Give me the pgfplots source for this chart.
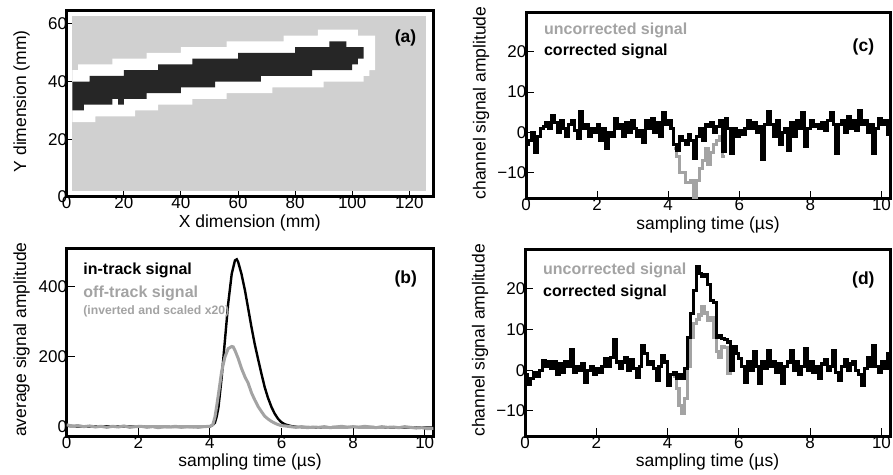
\documentclass[border=0pt]{standalone}
\usepackage{fontspec}
\setmainfont{Liberation Sans}
\usepackage{pgfplots}
\pgfplotsset{compat=1.18}

\definecolor{trgray}{RGB}{163,163,163}
\definecolor{mapgray}{RGB}{208,208,208}
\definecolor{trackblk}{RGB}{38,38,38}

\tikzset{
  legtext/.style={anchor=west, font=\bfseries\fontsize{16}{18}\selectfont},
  plabel/.style={font=\bfseries\fontsize{17.5}{20}\selectfont},
}
\pgfplotsset{
  panel/.style={
    scale only axis, anchor=south west,
    axis line style={line width=3pt},
    tick align=inside, tick pos=left,
    major tick length=8pt,
    tick style={line width=1pt, black},
    tick label style={font=\fontsize{17}{19}\selectfont},
    xticklabel style={yshift=3.5pt},
    yticklabel style={xshift=3.8pt},
    label style={font=\fontsize{17.5}{20}\selectfont},
  },
  timex/.style={
    xmin=0, xmax=10.24,
    xtick={0,2,4,6,8,10}, xticklabels={0,2,4,6,8,10},
    xlabel={sampling time (µs)},
  },
}

\begin{document}
\begin{tikzpicture}
\useasboundingbox (0,0) rectangle (893pt,474pt);

% (a) pad map
\begin{axis}[panel, at={(66.7pt,277pt)}, width=366.3pt, height=186pt,
  xmin=0, xmax=128.3, ymin=0, ymax=64.5,
  xtick={0,20,...,120}, xticklabels={0,20,40,60,80,100,120},
  ytick={0,20,40,60}, yticklabels={0,20,40,60},
  xlabel={X dimension (mm)}, ylabel={Y dimension (mm)},
  xlabel style={at={(axis description cs:0.5,-0.14)}, anchor=center},
  ylabel style={at={(axis description cs:-0.1228,0.515)}, anchor=center},
]
\addplot[fill=mapgray, draw=none] coordinates {
  (2,2) (126,2) (126,62.7) (2,62.7)} -- cycle;
\addplot[fill=white, draw=none] coordinates {
  (2,26) (2,44) (4,44) (4,46) (16,46) (16,48) (28,48) (28,50) (40,50) (40,52)
  (56,52) (56,54) (76,54) (76,56) (88,56) (88,58) (102,58) (102,56) (108,56)
  (108,44) (106,44) (106,42) (104,42) (104,40) (90,40) (90,38) (72,38) (72,36)
  (56,36) (56,34) (44,34) (44,32) (32,32) (32,30) (24,30) (24,28) (10,28) (10,26)} -- cycle;
\addplot[fill=trackblk, draw=none] coordinates {
  (2,30) (2,40) (8,40) (8,42) (20,42) (20,44) (32,44) (32,46) (44,46) (44,48)
  (60,48) (60,50) (80,50) (80,52) (92,52) (92,54) (98,54) (98,52) (104,52)
  (104,48) (102,48) (102,46) (100,46) (100,44) (86,44) (86,42) (68,42) (68,40)
  (52,40) (52,38) (40,38) (40,36) (28,36) (28,34) (20,34) (20,32) (18,32)
  (18,34) (16,34) (16,32) (6,32) (6,30)} -- cycle;
\node[plabel] at (rel axis cs:0.925,0.853) {(a)};
\end{axis}

% (c) channel far from track
\begin{axis}[panel, timex, at={(526pt,275pt)}, width=364pt, height=186.3pt,
  ymin=-16.5, ymax=29.7,
  ytick={-10,0,10,20}, yticklabels={−10,0,10,20},
  ylabel={channel signal amplitude},
  xlabel style={at={(axis description cs:0.5,-0.14)}, anchor=center},
  ylabel style={at={(axis description cs:-0.1236,0.515)}, anchor=center},
]
\addplot[const plot, trgray, line width=3.1pt] coordinates {
  (4.16,-4) (4.24,-6) (4.32,-10) (4.40,-10) (4.48,-12.5) (4.56,-12.5)
  (4.64,-12) (4.72,-16) (4.80,-12) (4.88,-9) (4.96,-7) (5.04,-4) (5.12,-8)
  (5.20,-5) (5.28,-3) (5.36,-2) (5.44,-1) (5.52,-6) (5.60,-6)};
\addplot[const plot, black, line width=3.1pt] coordinates {
  (0.00,-3) (0.08,-2) (0.16,0) (0.24,-5) (0.32,-1) (0.40,1) (0.48,1.5) (0.56,2.5)
  (0.64,1) (0.72,4.3) (0.80,2.5) (0.88,0) (0.96,3) (1.04,1) (1.12,-1) (1.20,2)
  (1.28,3) (1.36,0.5) (1.44,-1.5) (1.52,5.2) (1.60,1) (1.68,2) (1.76,-1) (1.84,1)
  (1.92,0) (2.00,2) (2.08,-2) (2.16,1) (2.24,-4) (2.32,0) (2.40,-1) (2.48,3.5)
  (2.56,1) (2.64,2) (2.72,-1) (2.80,2.5) (2.88,0) (2.96,3) (3.04,1) (3.12,-1)
  (3.20,0.5) (3.28,-2.6) (3.36,3) (3.44,1) (3.52,3.5) (3.60,0) (3.68,2.5) (3.76,-1)
  (3.84,5) (3.92,2) (4.00,3) (4.08,1) (4.16,-3) (4.24,-4.5) (4.32,-1) (4.40,-2)
  (4.48,-3) (4.56,-0.5) (4.64,-2) (4.72,-6.5) (4.80,-1) (4.88,1) (4.96,-2) (5.04,2)
  (5.12,1.5) (5.20,2.5) (5.28,0) (5.36,1.5) (5.44,3) (5.52,-4.8) (5.60,3.5) (5.68,1)
  (5.76,-5.2) (5.84,1) (5.92,-1) (6.00,0.5) (6.08,-0.5) (6.16,1) (6.24,3) (6.32,1)
  (6.40,2.5) (6.48,0) (6.56,1.5) (6.64,-6.8) (6.72,2) (6.80,5.1) (6.88,2) (6.96,-1)
  (7.04,3) (7.12,-3) (7.20,0) (7.28,1) (7.36,-4.4) (7.44,2.5) (7.52,-1) (7.60,3)
  (7.68,1) (7.76,5) (7.84,-3.5) (7.92,1) (8.00,3) (8.08,1.5) (8.16,2) (8.24,1)
  (8.32,2.5) (8.40,0.5) (8.48,3) (8.56,5) (8.64,2) (8.72,-5.2) (8.80,2) (8.88,3)
  (8.96,0) (9.04,4) (9.12,1) (9.20,3) (9.28,0.5) (9.36,5.5) (9.44,2) (9.52,3)
  (9.60,0) (9.68,2) (9.76,-5.2) (9.84,1) (9.92,3.5) (10.00,2) (10.08,3) (10.16,-0.6)
  (10.24,-0.6)};
\node[legtext, text=trgray] at (rel axis cs:0.04,0.903) {uncorrected signal};
\node[legtext] at (rel axis cs:0.04,0.79) {corrected signal};
\node[plabel] at (rel axis cs:0.927,0.815) {(c)};
\end{axis}

% (b) average signals
\begin{axis}[panel, timex, at={(66.7pt,37.7pt)}, width=366.6pt, height=187.6pt,
  ymin=-26.6, ymax=509.4,
  ytick={0,200,400}, yticklabels={0,200,400},
  ylabel={average signal amplitude},
  xlabel style={at={(axis description cs:0.5,-0.137)}, anchor=center},
  ylabel style={at={(axis description cs:-0.1228,0.515)}, anchor=center},
]
\addplot[black, line width=2.4pt] coordinates {
  (0,3) (0.5,1) (1,2) (2,1) (3,0) (4.00,1) (4.05,4) (4.10,8) (4.14,12) (4.19,30)
  (4.24,57) (4.33,143) (4.42,248) (4.51,352) (4.61,438) (4.70,476) (4.75,479)
  (4.79,471) (4.88,438) (4.98,390) (5.07,338) (5.16,286) (5.25,238) (5.35,192)
  (5.44,152) (5.53,114) (5.62,84) (5.72,57) (5.81,38) (5.90,24) (5.99,14)
  (6.09,8) (6.18,5) (6.30,2) (6.45,0) (7,-1) (8,0) (9,-1) (10,-2) (10.24,-2)};
\addplot[trgray, line width=3pt] coordinates {
  (0.00,6) (0.16,3) (0.32,4) (0.48,1) (0.64,3) (0.80,0) (0.96,2) (1.12,-1)
  (1.28,2) (1.44,0) (1.60,3) (1.76,-1) (1.92,1) (2.08,2) (2.24,-1) (2.40,1)
  (2.56,-2) (2.72,1) (2.88,0) (3.04,2) (3.20,-1) (3.36,1) (3.52,0) (3.68,-1)
  (3.84,1) (4.00,2) (4.08,6) (4.14,28) (4.19,60) (4.24,95) (4.33,160) (4.42,200)
  (4.51,224) (4.61,230) (4.65,229) (4.70,219) (4.79,196) (4.88,168) (4.98,143)
  (5.07,125) (5.16,98) (5.25,78) (5.35,58) (5.44,44) (5.53,31) (5.62,23)
  (5.72,16) (5.81,11) (5.90,7) (5.99,4) (6.10,3) (6.24,1) (6.40,-1) (6.56,1)
  (6.72,-2) (6.88,0) (7.04,-1) (7.20,1) (7.36,-2) (7.52,0) (7.68,2) (7.84,-1)
  (8.00,1) (8.16,-1) (8.32,2) (8.48,0) (8.64,-2) (8.80,1) (8.96,-1) (9.12,0)
  (9.28,-2) (9.44,1) (9.60,-1) (9.76,-3) (9.92,-2) (10.08,-5) (10.24,-4)};
\node[legtext] at (rel axis cs:0.036,0.885) {in-track signal};
\node[legtext, text=trgray] at (rel axis cs:0.036,0.76) {off-track signal};
\node[anchor=west, font=\bfseries\fontsize{12.2}{14}\selectfont, text=trgray]
  at (rel axis cs:0.036,0.668) {(inverted and scaled x20)};
\node[plabel] at (rel axis cs:0.925,0.837) {(b)};
\end{axis}

% (d) channel on the track
\begin{axis}[panel, timex, at={(525pt,37.7pt)}, width=365pt, height=186.6pt,
  ymin=-16.2, ymax=29.5,
  ytick={-10,0,10,20}, yticklabels={−10,0,10,20},
  ylabel={channel signal amplitude},
  xlabel style={at={(axis description cs:0.5,-0.137)}, anchor=center},
  ylabel style={at={(axis description cs:-0.1233,0.515)}, anchor=center},
]
\addplot[const plot, trgray, line width=3.1pt] coordinates {
  (4.16,-1.5) (4.24,-4.5) (4.32,-8.6) (4.40,-10.7) (4.48,-7) (4.56,0.8)
  (4.64,8.1) (4.72,11.4) (4.80,12.5) (4.88,13.5) (4.96,15.5) (5.04,14)
  (5.12,12.2) (5.20,13) (5.28,8.1) (5.36,4.5) (5.44,3.2) (5.52,5.7) (5.60,5.5)
  (5.68,-0.9) (5.76,0) (5.84,0)};
\addplot[const plot, black, line width=3.1pt] coordinates {
  (0.00,-1) (0.08,-3.5) (0.16,-2) (0.24,-0.5) (0.32,-1.5) (0.40,0) (0.48,2.4) (0.56,1)
  (0.64,2) (0.72,0.5) (0.80,2) (0.88,-1) (0.96,1.5) (1.04,-0.5) (1.12,2) (1.20,1)
  (1.28,5) (1.36,-0.5) (1.44,1) (1.52,0) (1.60,1.5) (1.68,-2.9) (1.76,0) (1.84,1)
  (1.92,-1) (2.00,0.5) (2.08,-0.5) (2.16,1) (2.24,2.8) (2.32,1) (2.40,3.2) (2.48,7.6)
  (2.56,2) (2.64,0.5) (2.72,2) (2.80,3) (2.88,0) (2.96,2.5) (3.04,0.5) (3.12,-1.7)
  (3.20,1) (3.28,6.1) (3.36,4) (3.44,1.5) (3.52,2) (3.60,0.5) (3.68,-2.5) (3.76,1)
  (3.84,3.6) (3.92,2) (4.00,-3.7) (4.08,-1) (4.16,-0.5) (4.24,-2) (4.32,-1) (4.40,-2)
  (4.48,0.4) (4.56,8.1) (4.64,13.9) (4.72,19.6) (4.80,25.3) (4.88,23.7) (4.96,22.9) (5.04,23.5)
  (5.12,21) (5.20,17) (5.28,16.5) (5.36,8.1) (5.44,8.5) (5.52,7.7) (5.60,7.5) (5.68,6.9)
  (5.76,0) (5.84,5.7) (5.92,4) (6.00,2.8) (6.08,1) (6.16,-2.9) (6.24,2) (6.32,0)
  (6.40,4.5) (6.48,1) (6.56,-3.3) (6.64,2) (6.72,0.5) (6.80,4.9) (6.88,1) (6.96,2)
  (7.04,-0.5) (7.12,1.5) (7.20,-3.3) (7.28,1) (7.36,2) (7.44,4.9) (7.52,0) (7.60,2)
  (7.68,-1) (7.76,1) (7.84,5.3) (7.92,0) (8.00,2) (8.08,-0.5) (8.16,1) (8.24,-2.1)
  (8.32,1.5) (8.40,2.5) (8.48,0) (8.56,1) (8.64,4.9) (8.72,-0.5) (8.80,-2.5) (8.88,1)
  (8.96,2.5) (9.04,0) (9.12,1.5) (9.20,2) (9.28,0) (9.36,-1) (9.44,-3.7) (9.52,0.5)
  (9.60,3.2) (9.68,1) (9.76,6.1) (9.84,1) (9.92,-0.5) (10.00,2) (10.08,0.5) (10.16,4)
  (10.24,4)};
\node[legtext, text=trgray] at (rel axis cs:0.04,0.89) {uncorrected signal};
\node[legtext] at (rel axis cs:0.04,0.773) {corrected signal};
\node[plabel] at (rel axis cs:0.927,0.84) {(d)};
\end{axis}
\end{tikzpicture}
\end{document}
